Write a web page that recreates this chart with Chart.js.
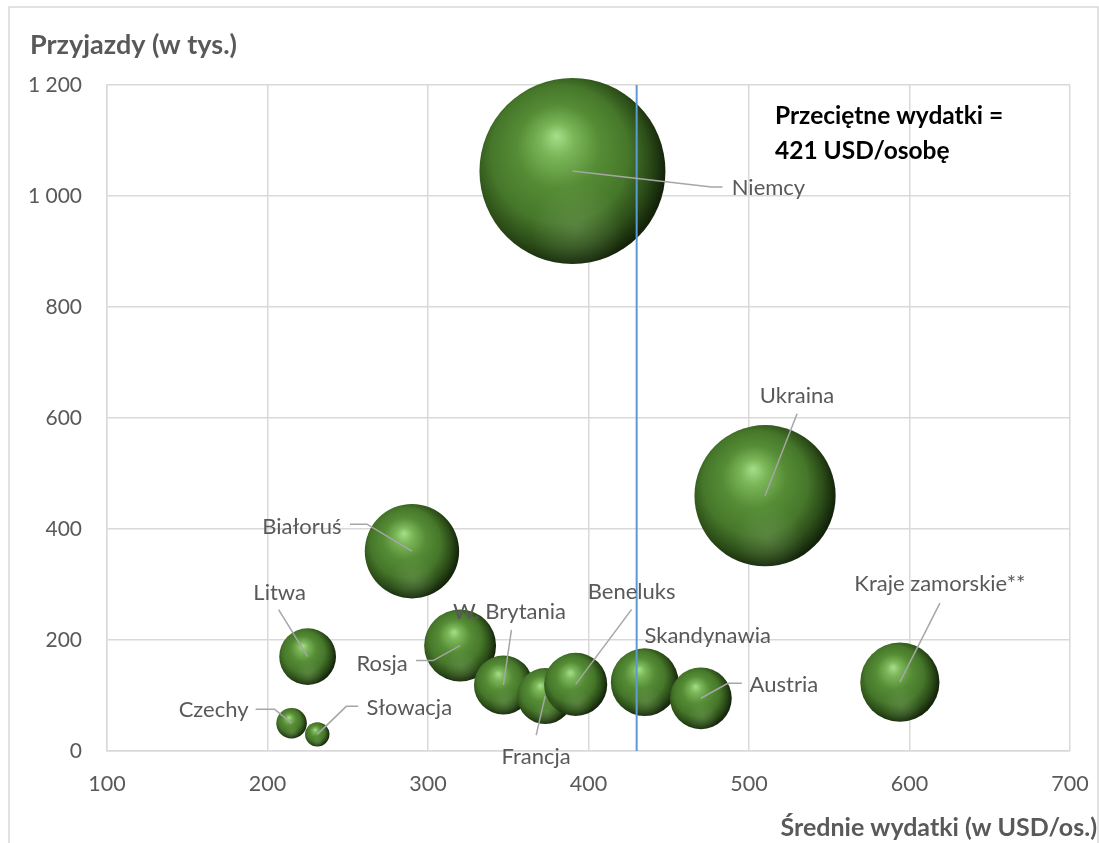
<!DOCTYPE html>
<html>
<head>
<meta charset="utf-8">
<script src="https://cdn.jsdelivr.net/npm/chart.js@4.4.1/dist/chart.umd.min.js"></script>
<style>
  html, body { margin: 0; padding: 0; background: #fff; }
  #wrap { width: 1099px; height: 843px; position: relative; }
</style>
</head>
<body>
<div id="wrap"><canvas id="bubbleChart"></canvas></div>
<script>
// dane
const countries = ['Niemcy', 'Ukraina', 'Białoruś', 'Litwa', 'Rosja', 'Czechy', 'Słowacja',
  'W. Brytania', 'Francja', 'Beneluks', 'Skandynawia', 'Austria', 'Kraje zamorskie**'];
const avgSpend = [390, 510, 290, 225, 320, 215, 231, 347, 373, 392, 435, 470, 594];   // USD/os.
const arrivals = [1045, 460, 360, 170, 190, 50, 30, 119, 99, 120, 124, 95, 124];      // tys.
const totalSpend = [408, 235, 105, 38, 61, 11, 7, 41, 37, 47, 54, 45, 74];            // mln USD (wielkość bąbla)
const avgLineX = 430;
const avgNote = ['Przeciętne wydatki =', '421 USD/osobę'];
const xTicks = [100, 200, 300, 400, 500, 600, 700];
const yTicks = [0, 200, 400, 600, 800, 1000, 1200];

const FONT = 'Lato, "Open Sans", sans-serif';
const GREY = '#595959';
const MAX_R = 93;

// where each data label sits, pixel offsets from bubble centre
const labelLayout = {
  'Niemcy': { text: [196, 17], line: [[139, 16], [150, 16]] },
  'Ukraina': { text: [32, -100], line: [[32, -82]] },
  'Białoruś': { text: [-110, -24], line: [[-45, -27], [-62, -27]] },
  'Litwa': { text: [-28, -64], line: [[-29, -47]] },
  'Rosja': { text: [-78, 18], line: [[-27, 15], [-44, 15]] },
  'Czechy': { text: [-78, -13], line: [[-17, -14], [-36, -14]] },
  'Słowacja': { text: [92, -26], line: [[29, -28], [41, -28]] },
  'W. Brytania': { text: [6, -73], line: [[8, -55]] },
  'Francja': { text: [-9, 61], line: [[-9, 39]] },
  'Beneluks': { text: [56, -92], line: [[56, -75]] },
  'Skandynawia': { text: [63, -46], line: [] },
  'Austria': { text: [83, -13], line: [[27, -15], [41, -15]] },
  'Kraje zamorskie**': { text: [40, -98], line: [[40, -79]] }
};

function fmt(v) {
  return String(v).replace(/\B(?=(\d{3})+(?!\d))/g, ' ');
}

function bubbleR(i) {
  return MAX_R * Math.sqrt(totalSpend[i] / Math.max(...totalSpend));
}

function sphereFill(ctx) {
  const chart = ctx.chart;
  if (!chart.chartArea || ctx.type !== 'data') return '#4a7d2b';
  const cx = chart.scales.x.getPixelForValue(ctx.raw.x);
  const cy = chart.scales.y.getPixelForValue(ctx.raw.y);
  const r = bubbleR(ctx.dataIndex);
  if (!isFinite(cx) || !isFinite(cy)) return '#4a7d2b';
  const g = chart.ctx.createRadialGradient(cx - 0.17 * r, cy - 0.38 * r, 0, cx - 0.12 * r, cy - 0.08 * r, 1.12 * r);
  g.addColorStop(0, '#a6df8a');
  g.addColorStop(0.16, '#7bb659');
  g.addColorStop(0.4, '#558c35');
  g.addColorStop(0.66, '#46772a');
  g.addColorStop(0.85, '#2c4d18');
  g.addColorStop(1, '#13230a');
  return g;
}

// keep the plot area exactly where the original puts it
function noScalePadding(s) {
  s.paddingLeft = 0;
  s.paddingRight = 0;
  s.paddingTop = 0;
  s.paddingBottom = 0;
}

const decorations = {
  id: 'decorations',
  beforeDraw(chart) {
    const c = chart.ctx;
    c.save();
    c.fillStyle = '#fff';
    c.fillRect(0, 0, chart.width, chart.height);
    c.strokeStyle = '#d9d9d9';
    c.lineWidth = 1.5;
    c.strokeRect(9, 7, 1089, 900);
    c.restore();
  },
  afterDatasetsDraw(chart) {
    const c = chart.ctx;
    const meta = chart.getDatasetMeta(1);
    c.save();
    // soft reflection on the lower half of each sphere
    meta.data.forEach(el => {
      const r = el.options.radius;
      c.save();
      c.beginPath();
      c.arc(el.x, el.y, r, 0, Math.PI * 2);
      c.clip();
      const g = c.createRadialGradient(el.x + 0.05 * r, el.y + 0.62 * r, 0, el.x + 0.05 * r, el.y + 0.62 * r, 0.5 * r);
      g.addColorStop(0, 'rgba(170,200,150,0.22)');
      g.addColorStop(1, 'rgba(170,200,150,0)');
      c.fillStyle = g;
      c.fillRect(el.x - r, el.y - r, 2 * r, 2 * r);
      c.restore();
    });

    c.font = '22px ' + FONT;
    c.textAlign = 'center';
    c.textBaseline = 'middle';
    countries.forEach((name, i) => {
      const el = meta.data[i];
      const lay = labelLayout[name];
      if (lay.line.length) {
        c.strokeStyle = '#a6a6a6';
        c.lineWidth = 1.5;
        c.beginPath();
        c.moveTo(el.x, el.y);
        lay.line.forEach(p => c.lineTo(el.x + p[0], el.y + p[1]));
        c.stroke();
      }
      c.fillStyle = GREY;
      c.fillText(name, el.x + lay.text[0], el.y + lay.text[1]);
    });

    c.font = 'bold 24.5px ' + FONT;
    c.textAlign = 'left';
    c.fillStyle = '#000';
    c.fillText(avgNote[0], 775, 116);
    c.fillText(avgNote[1], 775, 151);
    c.restore();
  },
  afterDraw(chart) {
    const c = chart.ctx;
    c.save();
    c.fillStyle = GREY;
    c.textBaseline = 'middle';
    c.textAlign = 'left';
    c.font = 'bold 27px ' + FONT;
    c.fillText('Przyjazdy (w tys.)', 30, 45);
    c.textAlign = 'right';
    c.font = 'bold 25px ' + FONT;
    c.fillText('Średnie wydatki (w USD/os.)', 1097, 828);
    c.restore();
  }
};

new Chart(document.getElementById('bubbleChart'), {
  type: 'bubble',
  data: {
    datasets: [
      {
        type: 'line',
        label: 'Przeciętne wydatki',
        data: [{ x: avgLineX, y: yTicks[0] }, { x: avgLineX, y: yTicks[yTicks.length - 1] }],
        borderColor: '#5b9bd5',
        borderWidth: 2,
        pointRadius: 0,
        order: 0
      },
      {
        label: 'Przyjazdy',
        data: countries.map((c, i) => ({ x: avgSpend[i], y: arrivals[i] })),
        backgroundColor: sphereFill,
        borderWidth: 0,
        radius: ctx => bubbleR(ctx.dataIndex),
        clip: false,
        order: 1
      }
    ]
  },
  options: {
    responsive: true,
    maintainAspectRatio: false,
    animation: false,
    events: [],
    layout: { autoPadding: false, padding: { left: 0, top: 85, right: 29, bottom: 52 } },
    plugins: {
      legend: { display: false },
      tooltip: { enabled: false }
    },
    scales: {
      x: {
        type: 'linear',
        min: xTicks[0],
        max: xTicks[xTicks.length - 1],
        afterBuildTicks: s => { s.ticks = xTicks.map(v => ({ value: v })); },
        afterFit: s => { s.height = 40; noScalePadding(s); },
        ticks: { color: GREY, font: { family: FONT, size: 21.5 }, padding: 20, maxRotation: 0 },
        grid: { color: '#d9d9d9', lineWidth: 1.5, drawTicks: false },
        border: { color: '#d9d9d9', width: 1.5 }
      },
      y: {
        type: 'linear',
        min: yTicks[0],
        max: yTicks[yTicks.length - 1],
        afterBuildTicks: s => { s.ticks = yTicks.map(v => ({ value: v })); },
        afterFit: s => { s.width = 107; noScalePadding(s); },
        ticks: { color: GREY, font: { family: FONT, size: 21 }, padding: 25, callback: v => fmt(v) },
        grid: { color: '#d9d9d9', lineWidth: 1.5, drawTicks: false },
        border: { color: '#d9d9d9', width: 1.5 }
      }
    }
  },
  plugins: [decorations]
});
</script>
</body>
</html>
